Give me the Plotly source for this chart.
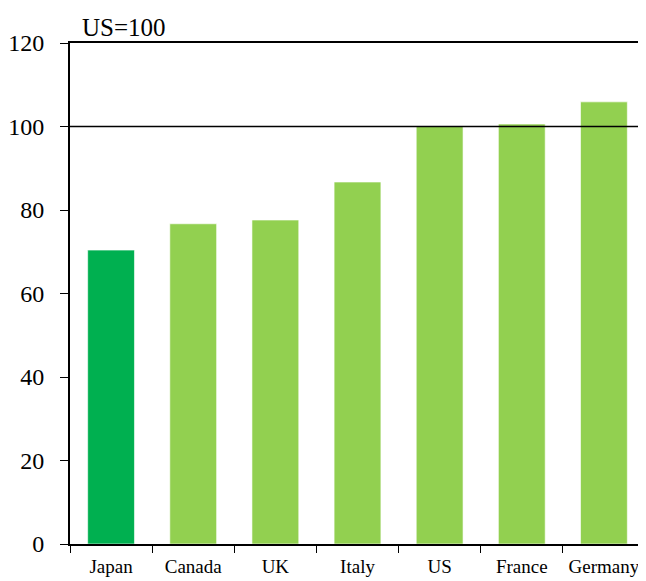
import plotly.graph_objects as go

countries = ["Japan", "Canada", "UK", "Italy", "US", "France", "Germany"]
values = [70.4, 76.7, 77.6, 86.7, 100.0, 100.6, 105.9]
colors = ["#00B050", "#92D050", "#92D050", "#92D050", "#92D050", "#92D050", "#92D050"]
y_ticks = [0, 20, 40, 60, 80, 100, 120]

fig = go.Figure()
fig.add_trace(go.Bar(
    x=countries, y=values,
    marker=dict(color=colors, line=dict(width=1, color="rgba(255,255,255,0.6)")),
    width=0.57,
))

fig.add_shape(type="line", xref="paper", yref="y", x0=0, x1=1, y0=100, y1=100,
              line=dict(color="black", width=1.5))

fig.add_annotation(text="US=100", xref="paper", yref="paper", x=0.018, y=1.0,
                   xanchor="left", yanchor="bottom", showarrow=False,
                   font=dict(family="Liberation Serif", size=25, color="black"))

# page body has an 8px default margin; figure sized to fit the 646x581 window
fig.update_layout(
    width=638, height=573,
    margin=dict(l=62, r=1, t=35, b=37),
    plot_bgcolor="white", paper_bgcolor="white",
    showlegend=False,
    font=dict(family="Liberation Serif", color="black"),
)
fig.update_xaxes(
    type="category", showline=True, linecolor="black", linewidth=2, mirror=True,
    ticks="outside", tickson="boundaries", ticklen=7, tickwidth=1, tickcolor="black",
    tickfont=dict(size=19, family="Liberation Serif"), tickangle=0,
    ticklabelstandoff=4, showgrid=False, automargin=False,
)
fig.update_yaxes(
    range=[0, 120], tickvals=y_ticks, showline=True, linecolor="black", linewidth=2,
    mirror=True, ticks="outside", ticklen=8, tickwidth=1, tickcolor="black",
    tickfont=dict(size=24, family="Liberation Serif"), showgrid=False, zeroline=False,
    ticklabelstandoff=11, automargin=False,
)

fig.write_html("out.html")
